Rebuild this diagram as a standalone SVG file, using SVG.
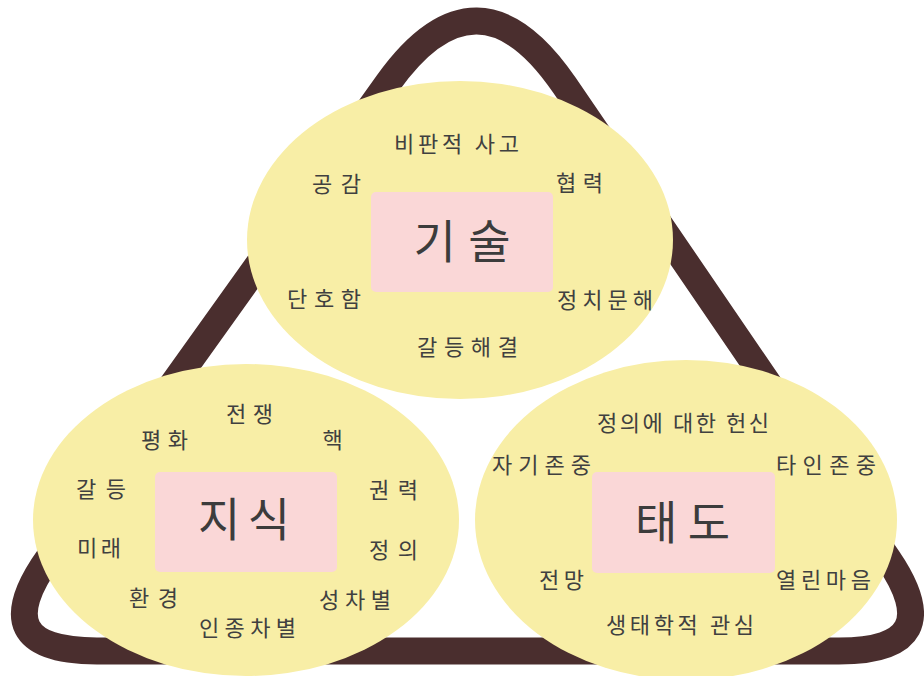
<svg xmlns="http://www.w3.org/2000/svg" width="924" height="676" viewBox="0 0 924 676">
<defs>
<style>
.frame{fill:none;stroke:#4a2e2e;stroke-width:27;stroke-linejoin:round}
.blob{fill:#f8eea6}
.core{fill:#fad7d7}
.big{font-family:"Noto Sans CJK KR","Noto Sans",sans-serif;font-size:46px;fill:#3c3c3c;text-anchor:middle}
.lbl{font-family:"Noto Sans CJK KR","Noto Sans",sans-serif;font-size:22px;fill:#404040;text-anchor:middle}
</style>
</defs>
<rect width="924" height="676" fill="#ffffff"/>
<g id="connectors">
<path class="frame" d="M 387.9 83.2 Q 477.5 -42 564.4 85.2 L 887.8 558.5 Q 951 651 839 651 L 97 651 Q -18 651 48.9 557.5 Z"/>
</g>
<g id="node-skill">
<ellipse class="blob" cx="460" cy="240" rx="213" ry="159"/>
<rect class="core" x="371" y="192" width="182" height="100" rx="5"/>
<text class="big" x="462" y="258" textLength="97" lengthAdjust="spacing">기술</text>
<text class="lbl" x="456.5" y="151.5" textLength="125" lengthAdjust="spacing">비판적 사고</text>
<text class="lbl" x="336.5" y="192" textLength="49" lengthAdjust="spacing">공감</text>
<text class="lbl" x="579.5" y="191" textLength="47" lengthAdjust="spacing">협력</text>
<text class="lbl" x="324" y="306.5" textLength="74" lengthAdjust="spacing">단호함</text>
<text class="lbl" x="605" y="308" textLength="96" lengthAdjust="spacing">정치문해</text>
<text class="lbl" x="467.5" y="354.5" textLength="101" lengthAdjust="spacing">갈등해결</text>
</g>
<g id="node-knowledge">
<ellipse class="blob" cx="246" cy="520" rx="213" ry="156"/>
<rect class="core" x="155" y="472" width="182" height="100" rx="5"/>
<text class="big" x="244" y="536" textLength="92" lengthAdjust="spacing">지식</text>
<text class="lbl" x="249.5" y="422" textLength="47" lengthAdjust="spacing">전쟁</text>
<text class="lbl" x="164.5" y="448" textLength="47" lengthAdjust="spacing">평화</text>
<text class="lbl" x="332.5" y="448">핵</text>
<text class="lbl" x="101" y="497" textLength="50" lengthAdjust="spacing">갈등</text>
<text class="lbl" x="393.5" y="498" textLength="49" lengthAdjust="spacing">권력</text>
<text class="lbl" x="99" y="556" textLength="44" lengthAdjust="spacing">미래</text>
<text class="lbl" x="393.5" y="558" textLength="49" lengthAdjust="spacing">정의</text>
<text class="lbl" x="153.5" y="606" textLength="49" lengthAdjust="spacing">환경</text>
<text class="lbl" x="355" y="608" textLength="72" lengthAdjust="spacing">성차별</text>
<text class="lbl" x="247.5" y="636" textLength="97" lengthAdjust="spacing">인종차별</text>
</g>
<g id="node-attitude">
<ellipse class="blob" cx="686" cy="520" rx="211" ry="160"/>
<rect class="core" x="592" y="472" width="183" height="101" rx="5"/>
<text class="big" x="682.5" y="539" textLength="95" lengthAdjust="spacing">태도</text>
<text class="lbl" x="683" y="431" textLength="172" lengthAdjust="spacing">정의에 대한 헌신</text>
<text class="lbl" x="541.5" y="473" textLength="99" lengthAdjust="spacing">자기존중</text>
<text class="lbl" x="826" y="473" textLength="100" lengthAdjust="spacing">타인존중</text>
<text class="lbl" x="561.5" y="588" textLength="45" lengthAdjust="spacing">전망</text>
<text class="lbl" x="823.5" y="588" textLength="95" lengthAdjust="spacing">열린마음</text>
<text class="lbl" x="680" y="633" textLength="148" lengthAdjust="spacing">생태학적 관심</text>
</g>
</svg>
